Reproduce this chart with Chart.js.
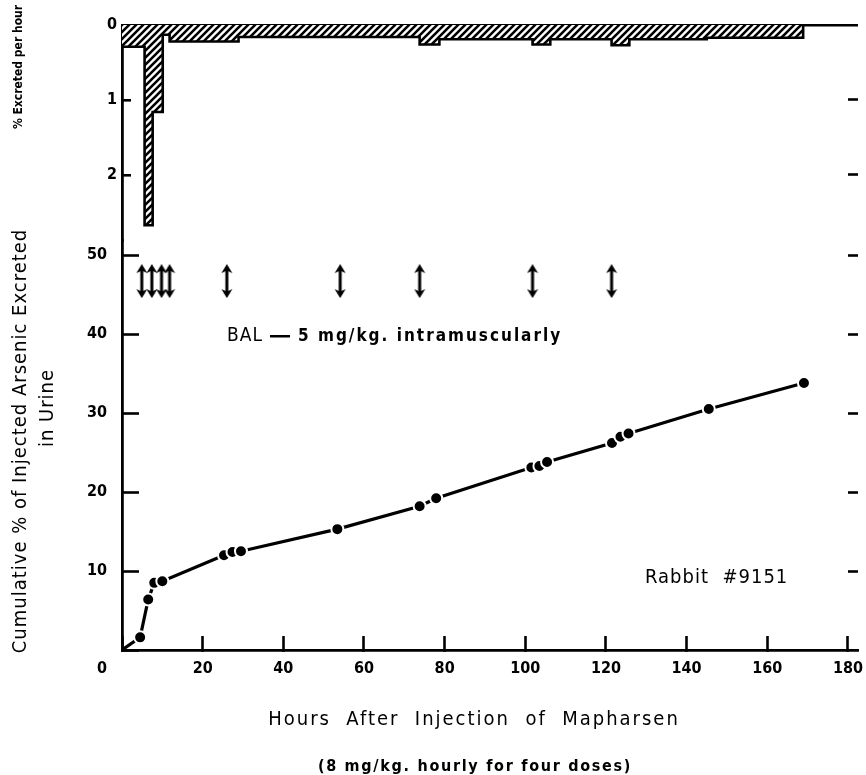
<!DOCTYPE html>
<html>
<head>
<meta charset="utf-8">
<script src="https://cdn.jsdelivr.net/npm/chart.js@4.4.0/dist/chart.umd.min.js"></script>
<style>
html,body{margin:0;padding:0;background:#fff}
canvas{display:block}
</style>
</head>
<body>
<canvas id="c" width="866" height="775"></canvas>
<script>
// ---- data ----
const sampleHours   = [4.5, 6.5, 8.0, 10.0, 25.3, 27.4, 29.5, 53.4, 73.8, 77.9, 101.5, 103.5, 105.4, 121.5, 123.6, 125.6, 145.5, 169.1];
const cumulativePct = [1.6, 6.4, 8.5, 8.7, 12.0, 12.4, 12.5, 15.3, 18.2, 19.2, 23.1, 23.3, 23.8, 26.2, 27.0, 27.4, 30.5, 33.8];
const rateBinStart  = [0, 5.6, 7.6, 10.1, 11.8, 28.9, 73.8, 78.7, 101.8, 106.2, 121.4, 125.8, 145.0];
const rateBinEnd    = 168.9;
const ratePerHour   = [0.29, 2.67, 1.16, 0.13, 0.22, 0.16, 0.26, 0.19, 0.26, 0.19, 0.27, 0.19, 0.17];
const balHours      = [4.9, 7.4, 9.8, 11.8, 26.0, 54.1, 73.8, 101.8, 121.4];
const balLevel      = 46.7;
const xTicks        = [0, 20, 40, 60, 80, 100, 120, 140, 160, 180];
const cumTicks      = [0, 10, 20, 30, 40, 50];
const rateTicks     = [0, 1, 2];

const FF = "'Liberation Sans Narrow', 'DejaVu Sans Condensed', Roboto, sans-serif";

// hatch pattern for the excretion-rate histogram
function hatch() {
  const s = 7, c = document.createElement('canvas');
  c.width = s; c.height = s;
  const g = c.getContext('2d');
  g.fillStyle = '#fff'; g.fillRect(0, 0, s, s);
  g.strokeStyle = '#000'; g.lineWidth = 2.6;
  g.beginPath();
  g.moveTo(-1, 1); g.lineTo(1, -1);
  g.moveTo(0, s); g.lineTo(s, 0);
  g.moveTo(s - 1, s + 1); g.lineTo(s + 1, s - 1);
  g.stroke();
  return g.createPattern(c, 'repeat');
}

// double-headed arrow marker
function arrowMarker() {
  const c = document.createElement('canvas');
  c.width = 12; c.height = 34;
  const g = c.getContext('2d');
  g.fillStyle = '#000';
  g.fillRect(4.5, 5, 3, 24);
  g.beginPath(); g.moveTo(6, 0); g.lineTo(11.5, 9); g.lineTo(6, 6.5); g.lineTo(0.5, 9); g.closePath(); g.fill();
  g.beginPath(); g.moveTo(6, 34); g.lineTo(11.5, 25); g.lineTo(6, 27.5); g.lineTo(0.5, 25); g.closePath(); g.fill();
  return c;
}

const histData = rateBinStart.map((h, i) => ({x: h, y: ratePerHour[i]}));
histData.push({x: rateBinEnd, y: 0});
const cumData = [{x: 0, y: 0}].concat(sampleHours.map((h, i) => ({x: h, y: cumulativePct[i]})));
const balData = balHours.map(h => ({x: h, y: balLevel}));

const setTicks = arr => s => { s.ticks = arr.map(v => ({value: v})); };

const textLayer = {
  id: 'textLayer',
  afterDraw(chart) {
    const ctx = chart.ctx;
    ctx.save();
    ctx.fillStyle = '#000';
    ctx.textBaseline = 'middle';
    const rot = (txt, x, y, font, sp) => {
      ctx.save(); ctx.translate(x, y); ctx.rotate(-Math.PI / 2);
      ctx.font = font; ctx.letterSpacing = sp || '0px'; ctx.textAlign = 'center';
      ctx.fillText(txt, 0, 0); ctx.restore();
    };
    rot('Cumulative % of Injected Arsenic Excreted', 21, 441, `20px ${FF}`, '1px');
    rot('in Urine', 48, 408, `20px ${FF}`, '1px');
    rot('% Excreted per hour', 19, 67, `bold 12px ${FF}`, '0px');

    ctx.textAlign = 'left';
    ctx.font = `19px ${FF}`; ctx.letterSpacing = '1px';
    ctx.fillText('BAL', 227, 336);
    ctx.fillRect(270, 335, 20, 2.5);
    ctx.font = `bold 17px ${FF}`; ctx.letterSpacing = '2px';
    ctx.fillText('5 mg/kg. intramuscularly', 298, 337);

    ctx.font = `20px ${FF}`; ctx.letterSpacing = '1px';
    ctx.fillText('Rabbit  #9151', 645, 578);

    ctx.textAlign = 'center';
    ctx.font = `20px ${FF}`; ctx.letterSpacing = '2px';
    ctx.fillText('Hours  After  Injection  of  Mapharsen', 474, 720);
    ctx.font = `bold 16px ${FF}`; ctx.letterSpacing = '1.7px';
    ctx.fillText('(8 mg/kg. hourly for four doses)', 475, 767);
    ctx.restore();
  }
};

const tickFont = {family: FF, size: 16, weight: 'bold'};

new Chart(document.getElementById('c'), {
  type: 'line',
  data: {
    datasets: [
      {
        label: 'rate',
        data: histData,
        yAxisID: 'yTop',
        stepped: 'before',
        borderColor: '#000',
        borderWidth: 2.6,
        backgroundColor: hatch(),
        fill: 'origin',
        pointRadius: 0
      },
      {
        label: 'cumulative',
        data: cumData,
        yAxisID: 'y',
        borderColor: '#000',
        borderWidth: 3.2,
        pointRadius: c => c.dataIndex === 0 ? 0 : 6,
        pointBackgroundColor: '#000',
        pointBorderColor: '#fff',
        pointBorderWidth: 2,
        fill: false
      },
      {
        label: 'BAL',
        data: balData,
        yAxisID: 'y',
        showLine: false,
        pointStyle: arrowMarker(),
        pointRadius: 6
      }
    ]
  },
  options: {
    responsive: false,
    animation: false,
    events: [],
    layout: {padding: {top: 25, left: 0, right: 0, bottom: 0}},
    plugins: {legend: {display: false}, tooltip: {enabled: false}},
    scales: {
      x: {
        type: 'linear', position: 'bottom', min: 0, max: 182.5,
        afterBuildTicks: setTicks(xTicks),
        afterFit: s => { s.height = 125; s.paddingLeft = 0; s.paddingRight = 0; },
        border: {display: true, color: '#000', width: 2.8},
        grid: {drawOnChartArea: false, tickLength: -14, tickWidth: 2.6, tickColor: '#000'},
        ticks: {color: '#000', font: tickFont, padding: 23, maxRotation: 0, autoSkip: false,
                callback: v => v === 0 ? '' : String(v)}
      },
      y: {
        type: 'linear', position: 'left', stack: 'L', stackWeight: 410,
        min: 0, max: 51.9,
        afterBuildTicks: setTicks(cumTicks),
        afterFit: s => { s.width = 122; s.paddingTop = 0; s.paddingBottom = 0; },
        border: {display: true, color: '#000', width: 2.8},
        grid: {drawOnChartArea: false, tickLength: -17, tickWidth: 2.6, tickColor: '#000'},
        ticks: {color: '#000', font: tickFont, padding: 32, autoSkip: false,
                callback: v => v === 0 ? ['', '', '0'] : String(v)}
      },
      yTop: {
        type: 'linear', position: 'left', stack: 'L', stackWeight: 215,
        reverse: true, min: 0, max: 2.867,
        afterBuildTicks: setTicks(rateTicks),
        afterFit: s => { s.width = 122; s.paddingTop = 0; s.paddingBottom = 0; },
        border: {display: true, color: '#000', width: 2.8},
        grid: {drawOnChartArea: true, tickLength: -9, tickWidth: 2.6, tickColor: '#000',
               color: c => c.tick && c.tick.value === 0 ? '#000' : 'rgba(0,0,0,0)', lineWidth: 2.6},
        ticks: {color: '#000', font: tickFont, padding: 14, autoSkip: false}
      },
      yTopR: {
        type: 'linear', position: 'right', stack: 'R', stackWeight: 215,
        reverse: true, min: 0, max: 2.867,
        afterBuildTicks: setTicks([1, 2]),
        afterFit: s => { s.width = 0; s.paddingTop = 0; s.paddingBottom = 0; },
        border: {display: false},
        grid: {drawOnChartArea: false, tickLength: -10, tickWidth: 2.6, tickColor: '#000'},
        ticks: {padding: 10, autoSkip: false, callback: () => ''}
      },
      yR: {
        type: 'linear', position: 'right', stack: 'R', stackWeight: 410,
        min: 0, max: 51.9,
        afterBuildTicks: setTicks([10, 20, 30, 40, 50]),
        afterFit: s => { s.width = 0; s.paddingTop = 0; s.paddingBottom = 0; },
        border: {display: false},
        grid: {drawOnChartArea: false, tickLength: -10, tickWidth: 2.6, tickColor: '#000'},
        ticks: {padding: 10, autoSkip: false, callback: () => ''}
      }
    }
  },
  plugins: [textLayer]
});
</script>
</body>
</html>
